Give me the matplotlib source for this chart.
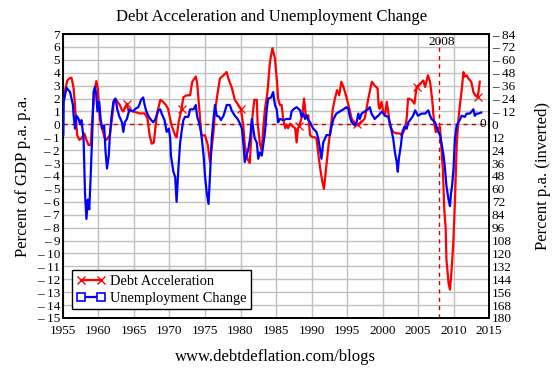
import numpy as np
import matplotlib
matplotlib.use("Agg")
import matplotlib.pyplot as plt
from matplotlib.ticker import FixedLocator, FuncFormatter
from matplotlib.lines import Line2D

plt.rcParams['font.family'] = ['Liberation Serif', 'DejaVu Serif']

# Debt acceleration, percent of GDP p.a. p.a. (left axis)
debt_years = [1955.05, 1955.6, 1956.0, 1956.2, 1956.5, 1956.75, 1957.0, 1957.3, 1957.6, 1958.0,
              1958.3, 1958.6, 1958.9, 1959.2, 1959.5, 1959.7, 1959.9, 1960.2, 1960.5, 1960.9,
              1961.1, 1961.6, 1961.9, 1962.2, 1962.5, 1963.0, 1963.3, 1963.5, 1964.0, 1964.2,
              1964.9, 1965.8, 1966.5, 1966.9, 1967.2, 1967.5, 1967.8, 1968.2, 1968.7, 1969.1,
              1969.5, 1969.8, 1970.3, 1970.8, 1971.0, 1971.3, 1971.7, 1971.95, 1972.4, 1972.9,
              1973.2, 1973.7, 1973.9, 1974.2, 1974.5, 1975.0, 1975.4, 1975.7, 1976.2, 1976.4,
              1976.8, 1977.1, 1977.6, 1978.05, 1978.3, 1978.8, 1979.2, 1979.7, 1980.05, 1980.4,
              1980.6, 1981.0, 1981.3, 1981.7, 1981.95, 1982.3, 1982.4, 1982.75, 1983.0, 1983.2,
              1983.45, 1983.8, 1984.15, 1984.5, 1984.85, 1985.1, 1985.3, 1985.55, 1985.8, 1986.0,
              1986.3, 1986.5, 1986.7, 1987.0, 1987.2, 1987.7, 1987.9, 1988.1, 1988.3, 1988.7,
              1988.95, 1989.2, 1989.55, 1989.8, 1990.2, 1990.5, 1990.7, 1991.05, 1991.3, 1991.55,
              1991.75, 1992.0, 1992.4, 1992.7, 1993.0, 1993.3, 1993.6, 1993.9, 1994.2, 1994.5,
              1994.85, 1995.2, 1995.65, 1996.1, 1996.4, 1996.6, 1997.1, 1997.5, 1998.0, 1998.5,
              1998.9, 1999.3, 1999.45, 1999.6, 1999.85, 2000.1, 2000.35, 2000.6, 2000.8, 2001.05,
              2001.5, 2002.0, 2002.45, 2002.7, 2003.2, 2003.4, 2003.6, 2004.1, 2004.5, 2004.8,
              2005.3, 2005.75, 2006.0, 2006.4, 2006.7, 2007.0, 2007.25, 2007.5, 2007.8, 2008.1,
              2008.3, 2008.5, 2008.7, 2008.9, 2009.0, 2009.3, 2009.5, 2009.7, 2009.95, 2010.2,
              2010.45, 2010.7, 2010.9, 2011.15, 2011.4, 2011.6, 2011.85, 2012.1, 2012.5, 2012.8,
              2013.05, 2013.4, 2013.55, 2013.7]
debt_accel = [2.0, 3.4, 3.6, 3.6, 2.8, 1.0, -0.85, -1.2, -1.1, -0.7,
              -1.2, -1.6, -1.6, 1.0, 2.8, 3.35, 2.8, 0.4, -0.3, -1.1,
              -1.2, -0.85, 0.45, 1.9, 1.9, 1.5, 1.1, 1.0, 1.6, 1.1,
              1.0, 0.85, 0.85, 0.45, -0.85, -1.5, -1.4, 0.7, 1.9, 1.75,
              1.5, 1.2, -0.1, -0.85, -1.0, 0.2, 1.2, 2.1, 2.25, 2.25,
              3.3, 3.7, 3.2, 1.2, -0.85, -0.85, -1.6, -2.9, -0.6, 1.0,
              2.5, 3.55, 3.8, 4.05, 3.55, 2.8, 1.9, 1.5, 1.2, -0.1,
              -1.6, -2.7, -3.0, 0.7, 1.9, 1.9, 0.2, -1.6, -2.0, -0.3,
              1.2, 2.5, 4.85, 5.9, 5.1, 3.55, 2.0, 1.5, 1.5, 0.45,
              -0.3, 0.0, -0.3, 0.05, -0.1, -0.3, -1.4, -0.3, -0.1, 0.7,
              2.0, 0.7, 0.7, -0.85, -1.0, -1.0, -1.1, -2.7, -3.7, -4.5,
              -5.0, -3.7, -1.6, -0.3, 1.2, 2.0, 2.65, 2.25, 3.3, 2.9,
              2.25, 1.5, 0.45, 0.05, 0.0, -0.1, 0.2, 0.45, 2.0, 3.3,
              3.0, 2.8, 1.5, 1.2, 1.75, 1.0, 0.7, 1.75, 1.0, -0.1,
              -0.6, -0.7, -0.7, -0.85, -0.3, 0.45, 2.0, 1.9, 1.6, 2.9,
              3.15, 3.4, 2.9, 3.8, 3.3, 1.9, 0.2, -0.6, -0.3, -0.2,
              -1.9, -3.45, -6.6, -8.1, -10.45, -12.3, -12.8, -11.5, -9.4, -6.0,
              -1.6, 0.45, 1.5, 2.65, 4.05, 3.7, 3.8, 3.55, 3.3, 2.5,
              2.25, 2.1, 2.65, 3.3]
debt_marker_years = [1964.0, 1971.7, 1980.05, 1988.3, 1996.4, 2004.8, 2013.4]

# Unemployment change, percent p.a. (right axis, inverted)
unemp_years = [1955.05, 1955.1, 1955.5, 1956.0, 1956.2, 1956.4, 1956.5, 1956.7, 1956.9, 1957.2,
               1957.4, 1957.6, 1957.9, 1958.1, 1958.3, 1958.5, 1958.7, 1958.9, 1959.1, 1959.3,
               1959.5, 1959.7, 1959.85, 1960.1, 1960.3, 1960.5, 1960.8, 1961.0, 1961.2, 1961.45,
               1961.6, 1961.85, 1962.1, 1962.4, 1962.65, 1962.9, 1963.3, 1963.5, 1963.7, 1964.0,
               1964.2, 1964.4, 1964.6, 1964.9, 1965.1, 1965.6, 1965.8, 1966.0, 1966.3, 1966.5,
               1966.7, 1967.0, 1967.3, 1967.7, 1967.95, 1968.2, 1968.4, 1968.7, 1968.9, 1969.1,
               1969.3, 1969.6, 1969.9, 1970.1, 1970.2, 1970.55, 1970.8, 1971.0, 1971.25, 1971.5,
               1971.7, 1971.95, 1972.2, 1972.65, 1972.9, 1973.4, 1973.7, 1973.9, 1974.2, 1974.5,
               1974.8, 1975.0, 1975.25, 1975.5, 1975.7, 1975.95, 1976.2, 1976.4, 1976.65, 1977.0,
               1977.25, 1977.6, 1977.8, 1978.05, 1978.5, 1978.75, 1979.2, 1979.6, 1979.9, 1980.2,
               1980.4, 1980.6, 1980.85, 1981.1, 1981.35, 1981.6, 1981.8, 1982.0, 1982.3, 1982.5,
               1982.75, 1983.0, 1983.2, 1983.45, 1983.7, 1983.9, 1984.3, 1984.6, 1984.85, 1985.1,
               1985.3, 1985.55, 1986.0, 1986.5, 1987.0, 1987.2, 1987.45, 1987.9, 1988.4, 1988.6,
               1988.85, 1989.1, 1989.3, 1989.55, 1989.8, 1990.0, 1990.25, 1990.7, 1990.95, 1991.2,
               1991.4, 1991.65, 1991.9, 1992.1, 1992.6, 1992.85, 1993.1, 1993.5, 1994.0, 1994.5,
               1994.95, 1995.2, 1995.4, 1995.65, 1996.1, 1996.35, 1996.6, 1996.8, 1997.05, 1997.5,
               1997.95, 1998.2, 1998.45, 1998.9, 1999.2, 1999.4, 1999.9, 2000.35, 2000.8, 2001.05,
               2001.3, 2001.5, 2001.75, 2002.0, 2002.15, 2002.3, 2002.6, 2002.8, 2003.1, 2003.4,
               2003.65, 2004.0, 2004.3, 2004.6, 2005.0, 2005.5, 2006.0, 2006.45, 2006.7, 2006.9,
               2007.4, 2007.6, 2007.85, 2008.1, 2008.3, 2008.6, 2008.8, 2009.0, 2009.3, 2009.5,
               2009.65, 2009.8, 2010.0, 2010.2, 2010.45, 2010.7, 2010.95, 2011.15, 2011.6, 2011.85,
               2012.3, 2012.8, 2013.0, 2013.25, 2013.5, 2013.9]
unemp_change = [10, -21, -34, -30, -24, -18, -8, 4, -8, -5,
                0, -4, 13, 64, 88, 70, 79, 48, 13, -30,
                -35, -27, -12, -21, -5, 4, 1, 26, 41, 29,
                10, -8, -21, -24, -14, -8, -2, 7, -2, -5,
                -10, -14, -13, -12, -14, -16, -19, -23, -25, -18,
                -13, -8, -5, -2, -4, -8, -13, -14, -10, -7,
                -4, 7, 4, 13, 29, 44, 49, 72, 41, 17,
                7, -4, -7, -7, -14, -14, -18, -7, -1, 10,
                29, 48, 64, 74, 48, 13, -5, -18, -8, -7,
                -4, -8, -12, -18, -18, -13, -8, -5, -1, 4,
                17, 35, 29, 23, 13, -5, 4, 13, 17, 32,
                26, 29, 19, 7, -14, -24, -25, -30, -18, -14,
                -2, -5, -4, -5, -5, -12, -14, -16, -13, -7,
                -10, -5, -8, -4, -2, 1, 4, 7, 13, 23,
                32, 17, 13, 10, 10, 1, -5, -10, -12, -14,
                -16, -14, -7, -2, 1, -2, -10, -5, -10, -12,
                -14, -16, -10, -5, -7, -8, -12, -8, -7, -1,
                7, 13, 26, 35, 44, 32, 19, 7, 2, 4,
                -2, -5, -8, -13, -8, -10, -10, -13, -8, -5,
                -2, 2, 7, 10, 17, 29, 41, 57, 70, 76,
                64, 57, 41, 13, 1, -2, -5, -8, -7, -10,
                -10, -14, -8, -10, -10, -11]

x_ticks = list(range(1955, 2016, 5))
left_ticks = list(range(-15, 8))
right_ticks = list(range(-84, 181, 12))
event_year = 2008

RED = '#ff0000'
BLUE = '#0000ff'

fig = plt.figure(figsize=(5.54, 3.68), dpi=100)
ax = fig.add_axes([0.1137, 0.1359, 0.7690, 0.7717])
ax2 = ax.twinx()

debt_years_arr = np.array(debt_years)
mark_idx = [int(np.argmin(np.abs(debt_years_arr - y))) for y in debt_marker_years]

ax.plot(debt_years, debt_accel, color=RED, lw=1.6, marker='x', ms=6, mew=0.9,
        markevery=mark_idx, zorder=4)
ax2.plot(unemp_years, unemp_change, color=BLUE, lw=1.6, zorder=3)

h1 = Line2D([], [], color=RED, lw=1.6, marker='x', ms=6, mew=1.0)
h2 = Line2D([], [], color=BLUE, lw=1.6, marker='s', ms=6, mfc='white', mew=1.2)
leg = ax2.legend([h1, h2], ['Debt Acceleration', 'Unemployment Change'], loc='lower left',
                 bbox_to_anchor=(0.021, 0.032), borderaxespad=0, numpoints=2,
                 prop={'size': 10.4}, frameon=True, fancybox=False,
                 edgecolor='black', framealpha=1, handlelength=2.0, handletextpad=0.35,
                 borderpad=0.3, labelspacing=0.25)
leg.get_frame().set_linewidth(1.0)
leg.set_zorder(10)

ax.axhline(0, color='#cc0000', lw=1.0, ls=(0, (3, 3)), zorder=3)
ax.axvline(event_year, color='#cc0000', lw=1.0, ls=(0, (3, 3)), zorder=3)
ax.text(event_year + 0.4, 6.4, str(event_year), ha='center', va='center', fontsize=9.5)
ax.text(2014.1, 0, '0', ha='center', va='center', fontsize=9.5)

ax.set_xlim(1955, 2015)
ax.set_ylim(-15, 7)
ax2.set_ylim(180, -84)
ax.set_xticks(x_ticks)
ax.yaxis.set_major_locator(FixedLocator(left_ticks))
ax2.yaxis.set_major_locator(FixedLocator(right_ticks))

def fmt(v, pos):
    v = int(round(v))
    return '\u2013 ' + str(-v) if v < 0 else str(v)

ax.yaxis.set_major_formatter(FuncFormatter(fmt))
ax2.yaxis.set_major_formatter(FuncFormatter(fmt))

ax.grid(True, color='#c0c0c0', lw=1.0)
ax.set_axisbelow(True)
for a in (ax, ax2):
    a.tick_params(length=0, labelsize=9.5, pad=2)
    for s in a.spines.values():
        s.set_linewidth(1.2)
        s.set_color('black')
ax.tick_params(axis='x', pad=5)

ax.set_ylabel('Percent of GDP p.a. p.a.', fontsize=12, labelpad=4)
ax2.set_ylabel('Percent p.a. (inverted)', fontsize=12, labelpad=14)
fig.text(0.491, 0.954, 'Debt Acceleration and Unemployment Change', ha='center', va='center', fontsize=12)
fig.text(0.498, 0.03, 'www.debtdeflation.com/blogs', ha='center', va='center', fontsize=12)

fig.savefig('out.png', dpi=100)
